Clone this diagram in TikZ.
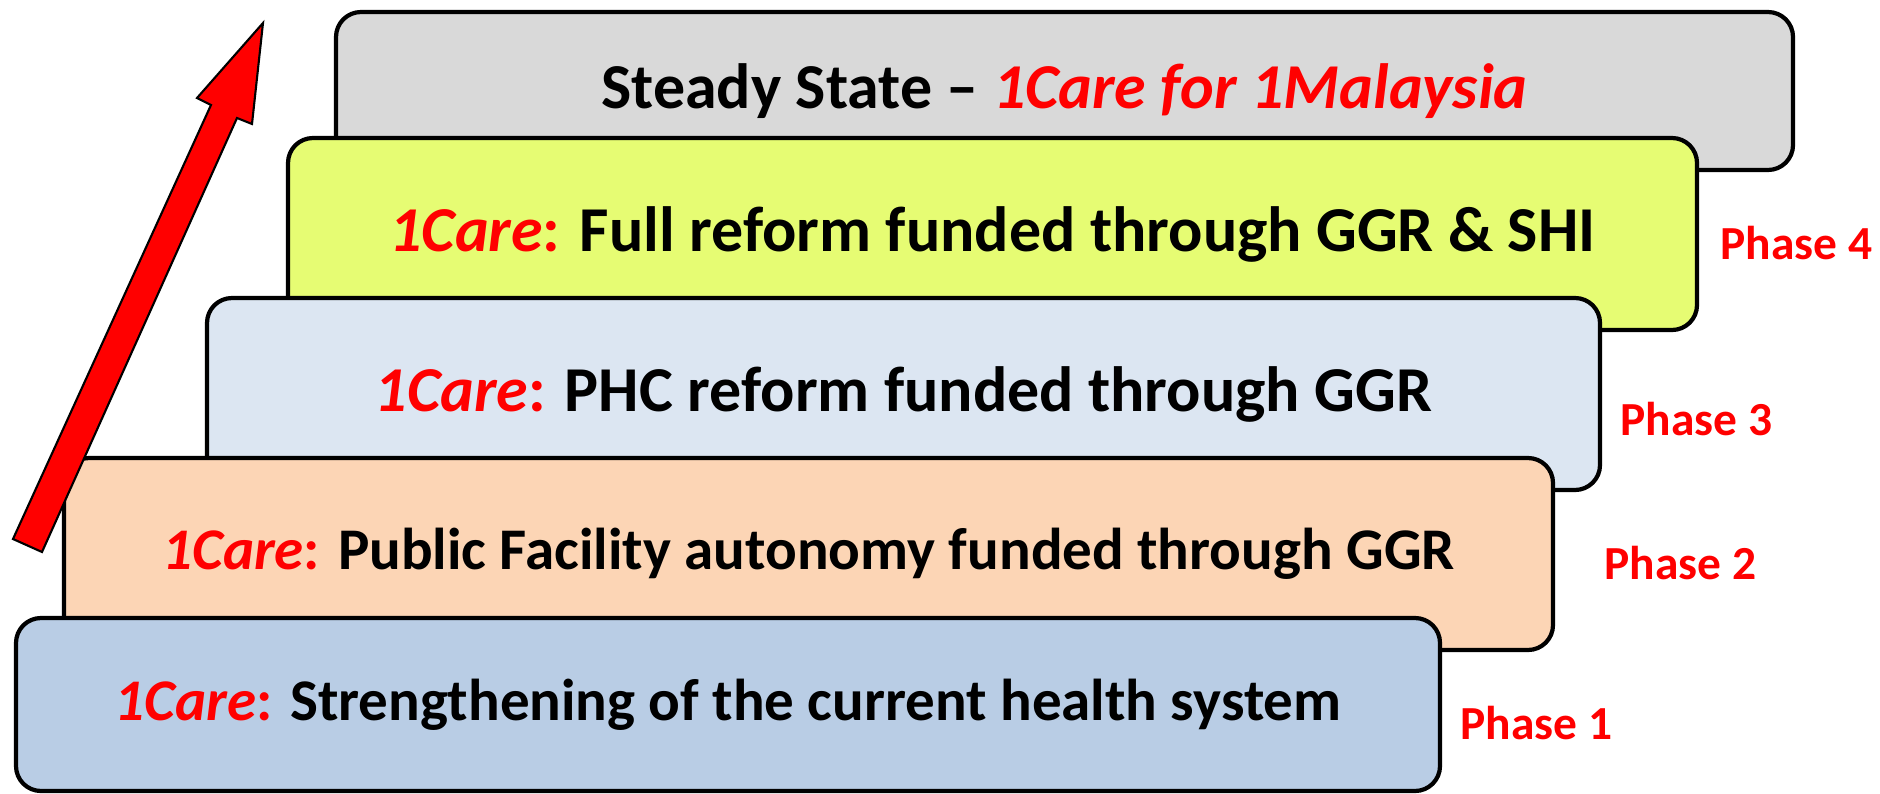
\documentclass[tikz,border=0pt]{standalone}
\usepackage{fontspec}
\setmainfont{Carlito}
\definecolor{stgray}{HTML}{D9D9D9}
\definecolor{stlime}{HTML}{E6FC73}
\definecolor{stpale}{HTML}{DCE6F2}
\definecolor{stpeach}{HTML}{FCD5B5}
\definecolor{stblue}{HTML}{B9CDE5}
\newcommand{\onecare}{\textcolor{red}{{\itshape 1Care}:}}
\newcommand{\stagesize}[1]{\bfseries\fontsize{#1}{20}\selectfont}
\begin{document}
\begin{tikzpicture}[
  stage/.style={draw, line width=1.2pt, rounded corners=0.25cm, inner sep=0pt},
  phase/.style={anchor=base west, text=red, font=\bfseries\fontsize{13.5}{15}\selectfont}]
\useasboundingbox (0,0) rectangle (18.8,7.93);
% steps, back to front
\node[stage, fill=stgray, minimum width=14.57cm, minimum height=1.58cm, font=\stagesize{18.2}] (s5) at (10.645, 7.02) {Steady State -- \textcolor{red}{\itshape 1Care for 1Malaysia}};
\node[stage, fill=stlime, minimum width=14.09cm, minimum height=1.92cm, font=\stagesize{18.2}] (s4) at (9.925, 5.59) {\onecare{} Full reform funded through GGR \& SHI};
\node[stage, fill=stpale, minimum width=13.93cm, minimum height=1.92cm, font=\stagesize{18.2}] (s3) at (9.035, 3.99) {\onecare{} PHC reform funded through GGR};
\node[stage, fill=stpeach, minimum width=14.89cm, minimum height=1.92cm, font=\stagesize{16.8}] (s2) at (8.085, 2.39) {\onecare{} Public Facility autonomy funded through GGR};
\node[stage, fill=stblue, minimum width=14.24cm, minimum height=1.73cm, font=\stagesize{16.8}] (s1) at (7.28, 0.885) {\onecare{} Strengthening of the current health system};

% phase labels
\node[phase] (p4) at (17.08, 5.34) {Phase 4};
\node[phase] (p3) at (16.08, 3.58) {Phase 3};
\node[phase] (p2) at (15.92, 2.14) {Phase 2};
\node[phase] (p1) at (14.48, 0.54) {Phase 1};

% arrow
\filldraw[fill=red, draw=black, line width=0.6pt] (0.13,2.54) -- (2.11,6.88) -- (1.97,6.95) -- (2.63,7.70) -- (2.52,6.69) -- (2.37,6.75) -- (0.42,2.41) -- cycle;
\end{tikzpicture}
\end{document}
